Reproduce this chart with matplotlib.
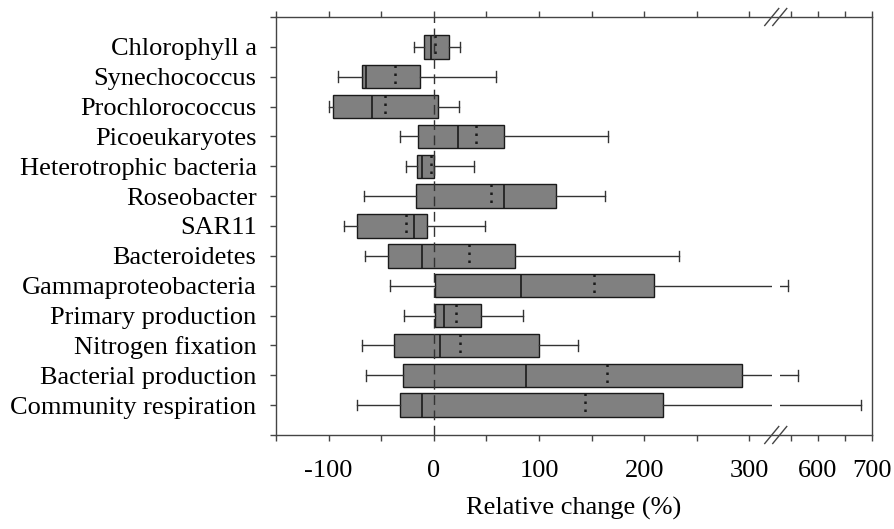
import numpy as np
import matplotlib
matplotlib.use("Agg")
import matplotlib.pyplot as plt
from matplotlib.scale import FuncScale

categories = ["Chlorophyll a", "Synechococcus", "Prochlorococcus", "Picoeukaryotes",
              "Heterotrophic bacteria", "Roseobacter", "SAR11", "Bacteroidetes",
              "Gammaproteobacteria", "Primary production", "Nitrogen fixation",
              "Bacterial production", "Community respiration"]
whislo = [-18.5, -91, -100, -32, -26, -66, -85, -65, -42, -28, -68, -64, -73]
q1     = [-9, -68, -96, -15, -16, -17, -73, -44, 1, 1, -38, -29, -32]
median = [-2.5, -64, -59, 23, -11, 67, -18.5, -11, 83, 10, 6, 88, -11]
mean   = [1.5, -37, -46, 40, -3, 54, -26, 33, 152, 21, 25, 165, 144]
q3     = [14.5, -13, 4, 67, 0, 116, -6, 77, 209, 45, 100, 293, 218]
whishi = [25, 59, 24, 166, 38, 163, 49, 233, 544, 85, 137, 563, 680]

tick_vals = [-150, -100, -50, 0, 50, 100, 150, 200, 250, 300, 550, 600, 650, 700]
tick_labels = ["", "-100", "", "0", "", "100", "", "200", "", "300", "", "600", "", "700"]

# broken axis: [-150, 325] linear, gap, [522, 700] compressed
B1, B2, R, EPS = 325.0, 522.0, 0.514, 1e-4
G = B1 + (B2 - B1) * EPS

def fwd(x):
    x = np.asarray(x, dtype=float)
    return np.where(x <= B1, x, np.where(x < B2, B1 + (x - B1) * EPS, G + (x - B2) * R))

def inv(y):
    y = np.asarray(y, dtype=float)
    return np.where(y <= B1, y, np.where(y < G, B1 + (y - B1) / EPS, B2 + (y - G) / R))

plt.rcParams['font.family'] = ['Liberation Serif', 'DejaVu Serif']
fig = plt.figure(figsize=(8.95, 5.29), dpi=100)
ax = fig.add_axes([276 / 895, 1 - 435 / 529, 596 / 895, 418 / 529])
ax.set_xscale(FuncScale(ax.xaxis, (fwd, inv)))

stats = []
for i in range(len(categories)):
    stats.append(dict(whislo=whislo[i], q1=q1[i], med=median[i], mean=mean[i],
                      q3=q3[i], whishi=whishi[i], fliers=[], label=categories[i]))
positions = np.arange(1, len(categories) + 1)
bp = ax.bxp(stats, positions=positions, vert=False, widths=0.78, patch_artist=True,
            showmeans=True, meanline=True, showfliers=False,
            boxprops=dict(facecolor="#808080", edgecolor="#1a1a1a", linewidth=1.0),
            medianprops=dict(color="#1a1a1a", linewidth=1.2),
            meanprops=dict(color="#1a1a1a", linestyle=(0, (1, 2.2)), linewidth=1.8),
            whiskerprops=dict(color="#333333", linewidth=1.0),
            capprops=dict(color="#333333", linewidth=1.0),
            capwidths=0.35)

ax.axvline(0, color="#333333", linestyle=(0, (7, 4)), linewidth=1.0, zorder=4)
# gap in whiskers across the axis break
ax.axvspan(321, 530, color="white", zorder=2.3, lw=0)

ax.set_xlim(-150, 700)
ax.set_ylim(14, 0)
ax.set_yticks(np.arange(0, 15))
ax.set_yticklabels([""] + categories + [""])
ax.set_xticks(tick_vals)
ax.set_xticklabels(tick_labels)
ax.tick_params(axis="x", which="both", top=True, bottom=True, direction="out",
               length=4, width=1, color="#444444", labelsize=19, pad=14)
ax.tick_params(axis="y", left=True, right=False, direction="out",
               length=4, width=1, color="#444444", labelsize=19, pad=10)
for s in ax.spines.values():
    s.set_color("#444444")
    s.set_linewidth(1.0)
ax.set_xlabel("Relative change (%)", fontsize=19, labelpad=11)

# break marks
xb = (fwd(B1) + 0.02 - fwd(-150)) / (fwd(700) - fwd(-150))
dx, dy = 7.0 / 596, 8.5 / 418
for yb in (0, 1):
    for off in (-4.0 / 596, 4.0 / 596):
        ax.plot([xb + off - dx, xb + off + dx], [yb - dy, yb + dy], transform=ax.transAxes,
                color="#444444", lw=1.0, clip_on=False, zorder=5)

fig.savefig("out.png", dpi=100)
